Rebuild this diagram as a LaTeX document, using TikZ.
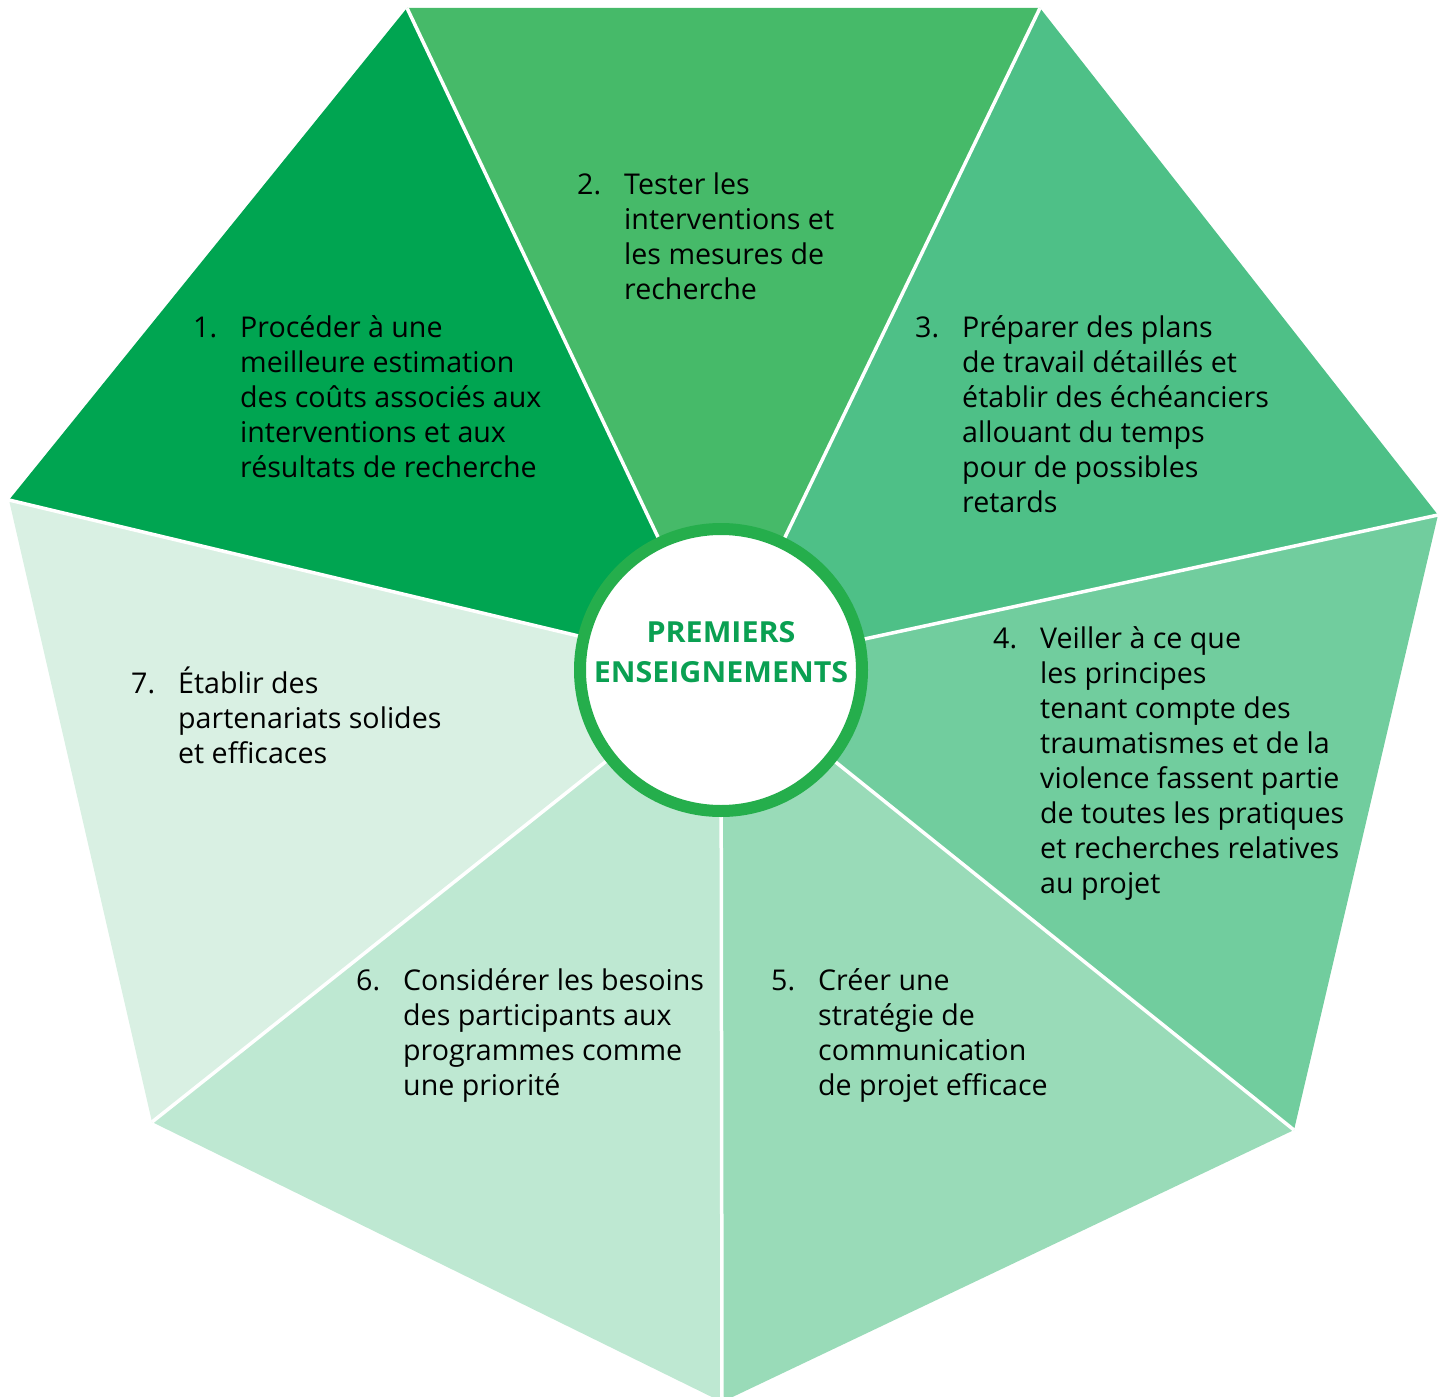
\documentclass[tikz,border=0pt]{standalone}
\usepackage{fontspec}
\setmainfont{Open Sans}
\newfontfamily\titlefam[FakeStretch=1.05]{Open Sans}
\definecolor{wA}{HTML}{00A551}
\definecolor{wB}{HTML}{46BA69}
\definecolor{wC}{HTML}{4EC087}
\definecolor{wD}{HTML}{71CD9E}
\definecolor{wE}{HTML}{99DBB8}
\definecolor{wF}{HTML}{BEE8D2}
\definecolor{wG}{HTML}{D9F0E3}
\definecolor{ring}{HTML}{25AE4C}
\definecolor{titlegreen}{HTML}{0AA052}
\newcommand\itemfont{\fontsize{28.6}{35}\selectfont}
\newcommand\titlefont{\titlefam\fontsize{29}{40}\selectfont\bfseries}
\newcommand\itemtext[2]{\parbox[t]{520pt}{\itemfont\hangindent=47pt\hangafter=1\noindent\makebox[47pt][l]{#1}#2}}
\tikzset{
  sepline/.style={draw=white, line width=3.5pt},
  itembox/.style={anchor=base west, inner sep=0pt, text=black},
}
\begin{document}
\begin{tikzpicture}[x=1pt, y=-1pt]
\useasboundingbox (0,0) rectangle (1444,1397);
\clip (0,0) rectangle (1444,1397);
\coordinate (O) at (721,670);
\coordinate (A) at (9,500);
\coordinate (B) at (407,8);
\coordinate (C) at (1040,8);
\coordinate (D) at (1438,515);
\coordinate (E) at (1294,1130);
\coordinate (F) at (722,1402);
\coordinate (G) at (152,1122);
\fill[wA] (O) -- (A) -- (B) -- cycle;
\fill[wB] (O) -- (B) -- (C) -- cycle;
\fill[wC] (O) -- (C) -- (D) -- cycle;
\fill[wD] (O) -- (D) -- (E) -- cycle;
\fill[wE] (O) -- (E) -- (F) -- cycle;
\fill[wF] (O) -- (F) -- (G) -- cycle;
\fill[wG] (O) -- (G) -- (A) -- cycle;
\foreach \v in {A,B,C,D,E,F,G} \draw[sepline] (O) -- (\v);
\node[circle, draw=ring, line width=12pt, fill=white, minimum size=282pt, inner sep=0pt] (hub) at (O) {};
\node[anchor=base, inner sep=0pt, text=titlegreen] (title) at (721,642) {\parbox[t]{300pt}{\centering\titlefont PREMIERS\\ENSEIGNEMENTS}};
\node[itembox] (n1) at (193,337) {\itemtext{1.}{Procéder à une\\meilleure estimation\\des coûts associés aux\\interventions et aux\\résultats de recherche}};
\node[itembox] (n2) at (577,194.5) {\itemtext{2.}{Tester les\\interventions et\\les mesures de\\recherche}};
\node[itembox] (n3) at (915,337) {\itemtext{3.}{Préparer des plans\\de travail détaillés et\\établir des échéanciers\\allouant du temps\\pour de possibles\\retards}};
\node[itembox] (n4) at (993,648) {\itemtext{4.}{Veiller à ce que\\les principes\\tenant compte des\\traumatismes et de la\\violence fassent partie\\de toutes les pratiques\\et recherches relatives\\au projet}};
\node[itembox] (n5) at (771,990) {\itemtext{5.}{Créer une\\stratégie de\\communication\\de projet efficace}};
\node[itembox] (n6) at (356,990) {\itemtext{6.}{Considérer les besoins\\des participants aux\\programmes comme\\une priorité}};
\node[itembox] (n7) at (131,693) {\itemtext{7.}{Établir des\\partenariats solides\\et efficaces}};
\end{tikzpicture}
\end{document}
